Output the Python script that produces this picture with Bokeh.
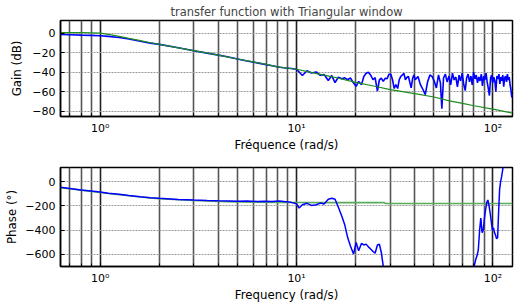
from bokeh.plotting import figure
from bokeh.models import Range1d, FixedTicker
from bokeh.layouts import column
from bokeh.embed import file_html
from bokeh.resources import INLINE

# ---------------- data ----------------
TITLE = "transfer function with Triangular window"
XLABEL_TOP = "Fréquence (rad/s)"
XLABEL_BOTTOM = "Frequency (rad/s)"
YLABEL_GAIN = "Gain (dB)"
YLABEL_PHASE = "Phase (°)"

X_MAJOR = [1, 10, 100]
X_MINOR = [0.7, 0.8, 0.9, 2, 3, 4, 5, 6, 7, 8, 9, 20, 30, 40, 50, 60, 70, 80, 90]
X_LABELS = {1: "10\u2070", 10: "10\u00b9", 100: "10\u00b2"}
GAIN_TICKS = [-80, -60, -40, -20, 0]
PHASE_TICKS = [-600, -400, -200, 0]

# theoretical (green) curves
theo_freq = [0.628, 0.7, 0.8, 0.9, 1.0, 1.1, 1.25, 1.4, 1.6, 1.8, 2.0, 2.5, 3.0, 4.0,
             5.0, 6.0, 7.0, 8.0, 10.0, 12.0, 15.0, 20.0, 25.0, 30.0, 40.0, 50.0,
             60.0, 70.0, 80.0, 100.0, 125.7]
theo_gain = [0.5, 0.6, 0.6, 0.4, 0.0, -1.2, -3.3, -5.3, -7.6, -9.8, -11.5, -15.0,
             -18.0, -22.5, -26.5, -29.5, -32.0, -34.5, -37.0, -40.5, -44.5, -50.5,
             -54.5, -58.0, -62.0, -65.5, -69.5, -72.0, -74.5, -78.0, -82.0]
theo_phase_freq = [0.628, 0.7, 0.8, 0.9, 1.0, 1.1, 1.25, 1.4, 1.6, 1.8, 2.0, 2.5, 3.0,
                   4.0, 5.0, 6.0, 8.0, 10.0, 15.0, 20.0, 28.0, 28.3, 40.0, 60.0, 80.0,
                   100.0, 125.7]
theo_phase = [-49, -58, -70, -80, -88, -97, -107, -116, -126, -134, -140, -149, -155,
              -162, -166, -168, -170, -171, -172, -172, -172, -179, -179, -180, -180,
              -180, -180]

# estimated (blue) gain
est_gain_freq = [0.628, 0.7, 0.8, 0.9, 1.0, 1.1, 1.25, 1.4, 1.6, 1.8, 2.0, 2.5, 3.0,
                 3.5, 4.0, 4.5, 5.0, 5.6, 6.3, 6.9, 7.5, 8.2, 8.8, 9.4,
                 10.0, 10.7, 11.3, 11.9, 12.6, 13.2, 13.8, 14.5, 15.1, 15.7, 16.3,
                 17.0, 17.6, 18.2, 18.8, 19.5, 20.1, 20.7, 21.4, 22.0, 22.6, 23.2,
                 23.9, 24.5, 25.1, 25.8, 26.4, 27.0, 27.6, 28.3, 28.9, 29.5, 30.2,
                 30.8, 31.4, 32.0, 32.7, 33.3, 33.9, 34.6, 35.2, 35.8, 36.4, 37.1,
                 37.7, 38.3, 39.0, 39.6, 40.2, 41.5, 42.7, 44.0, 45.2, 46.5, 47.8,
                 49.0, 50.3, 51.5, 52.8, 54.0, 54.9, 56.0, 57.2, 58.4, 59.7, 60.9,
                 62.2, 63.4, 64.7, 65.9, 67.2, 68.4, 69.7, 70.9, 72.2, 73.4, 74.7,
                 75.9, 77.2, 78.4, 79.7, 80.9, 82.2, 83.4, 84.7, 85.9, 87.2, 88.4,
                 89.7, 90.9, 92.2, 93.4, 94.7, 95.9, 97.2, 98.4, 99.7, 100.9, 102.2,
                 103.4, 104.7, 105.9, 107.2, 108.4, 109.7, 110.9, 112.2, 113.4, 114.7,
                 115.9, 117.2, 118.4, 119.7, 120.9, 122.2, 123.4, 124.7, 125.7]
est_gain = [-1.3, -1.6, -2.0, -2.3, -2.7, -3.3, -4.5, -6.0, -8.3, -10.2, -11.5, -15.0,
            -18.0, -20.5, -22.5, -24.5, -26.5, -28.5, -30.5, -32.0, -33.5, -35.0,
            -35.8, -36.2,
            -37.0, -43.5, -38.5, -40.8, -39.8, -43.2, -42.5, -48.5, -43.5, -50.8,
            -45.2, -46.8, -45.8, -47.8, -45.8, -51.2, -54.5, -49.5, -52.8, -44.5,
            -41.2, -40.2, -43.5, -47.8, -45.5, -59.5, -47.8, -46.2, -49.5, -46.2,
            -46.8, -42.2, -42.2, -47.8, -56.8, -52.8, -56.8, -47.8, -44.5, -42.8,
            -41.2, -47.8, -45.5, -44.5, -50.2, -56.2, -46.2, -42.8, -47.8, -44.5,
            -52.8, -57.8, -63.0, -49.5, -42.8, -44.5, -49.5, -56.2, -42.8, -51.0,
            -77.5, -46.0, -42.0, -50.0, -44.0, -53.0, -41.0, -48.0, -45.0, -55.0,
            -43.0, -49.0, -41.0, -52.0, -59.0, -46.0, -42.0, -50.0, -44.0, -53.0,
            -40.0, -47.0, -43.0, -51.0, -45.0, -49.0, -42.0, -54.0, -44.0, -48.0,
            -41.0, -50.0, -57.0, -64.0, -46.0, -43.0, -51.0, -45.0, -49.0, -60.0,
            -44.0, -47.0, -42.0, -52.0, -45.0, -49.0, -43.0, -55.0, -46.0, -44.0,
            -50.0, -42.0, -48.0, -45.0, -53.0, -58.0, -66.0, -62.0]

# estimated (blue) phase
est_phase_freq = [0.628, 0.7, 0.8, 0.9, 1.0, 1.1, 1.25, 1.4, 1.6, 1.8, 2.0, 2.5, 3.0,
                  3.5, 4.0, 4.5, 5.0, 5.6, 6.3, 6.9, 7.5, 8.2, 8.8, 9.4,
                  10.0, 10.3, 10.7, 11.3, 11.9, 12.6, 13.2, 13.8, 14.5, 15.1, 15.7,
                  16.3, 17.0, 17.6, 18.2, 18.8, 19.5, 20.1, 20.7, 21.4, 22.0, 22.6,
                  23.2, 23.9, 24.5, 25.1, 25.8, 26.4, 27.0, 27.6, 28.3, 28.9, 30.2,
                  35.2, 40.2, 50.3, 60.3, 70.4, 75.4, 79.2, 80.4, 81.7, 83.0, 84.2,
                  85.5, 86.7, 88.0, 89.2, 90.5, 91.7, 93.0, 94.2, 95.5, 96.8, 98.0,
                  99.3, 100.5, 101.8, 103.0, 104.3, 105.6, 106.8, 108.1, 109.3, 110.6,
                  111.8, 113.1, 115.6, 120.6, 125.7]
est_phase = [-46, -56, -68, -77, -85, -94, -104, -113, -123, -131, -137, -146, -151,
             -155, -157, -158, -160, -158, -163, -160, -162, -159, -164, -170,
             -182, -217, -190, -178, -195, -190, -176, -184, -144, -136, -144,
             -209, -285, -358, -461, -530, -597, -502, -570, -510, -522, -515,
             -538, -557, -576, -590, -522, -516, -584, -693, -800, -860, -900,
             -950, -1000, -980, -950, -900, -850, -760, -690, -640, -610, -560,
             -400, -300, -420, -400, -300, -230, -170, -150, -200, -260, -330,
             -400, -380, -420, -440, -470, -460, -250, -60, 0, 40,
             90, 150, 250, 350, 420]

# ---------------- styling ----------------
FONT = "DejaVu Sans"
BLUE = "#0000ff"
GREEN_TOP = "#1e8c1e"
GREEN_BOTTOM = "#5aab5a"


def make_fig(height, y_range, yticks, ylabel, xlabel, border_top, ylab_standoff):
    p = figure(width=515, height=height, x_axis_type="log",
               x_range=Range1d(0.628, 125.7), y_range=y_range,
               output_backend="svg", toolbar_location=None,
               min_border_left=60, min_border_right=3,
               min_border_top=border_top, min_border_bottom=36)
    p.background_fill_color = "white"
    p.border_fill_color = "white"
    p.outline_line_color = "black"
    p.outline_line_width = 1.5

    xt = FixedTicker(ticks=X_MAJOR, minor_ticks=X_MINOR)
    p.xaxis.ticker = xt
    p.xgrid.ticker = xt
    p.xaxis.major_label_overrides = X_LABELS
    p.yaxis.ticker = FixedTicker(ticks=yticks)

    for ax in (p.xaxis, p.yaxis):
        ax.axis_line_color = "black"
        ax.axis_line_width = 1.5
        ax.major_tick_in = 4
        ax.major_tick_out = 0
        ax.minor_tick_in = 3
        ax.minor_tick_out = 0
        ax.major_tick_line_color = "black"
        ax.minor_tick_line_color = "black"
        ax.major_label_text_font = FONT
        ax.major_label_text_font_size = "11px"
        ax.major_label_text_color = "black"
        ax.axis_label_text_font = FONT
        ax.axis_label_text_font_size = "11.8px"
        ax.axis_label_text_font_style = "normal"
        ax.axis_label_text_color = "black"

    p.xaxis.major_label_standoff = 5
    p.xaxis.axis_label_standoff = 0
    p.xaxis.axis_label = xlabel
    p.yaxis.major_label_standoff = 5
    p.yaxis.axis_label_standoff = ylab_standoff
    p.yaxis.axis_label = ylabel

    p.xgrid.grid_line_color = "#202020"
    p.xgrid.grid_line_width = 1.6
    p.xgrid.minor_grid_line_color = "#555555"
    p.xgrid.minor_grid_line_width = 1.6
    p.ygrid.grid_line_color = "#9a9a9a"
    p.ygrid.grid_line_width = 1
    p.ygrid.grid_line_dash = "2 1"
    return p


p1 = make_fig(154, Range1d(-85.5, 13), GAIN_TICKS, YLABEL_GAIN, XLABEL_TOP, 19, 5)
p1.title.text = TITLE
p1.title.align = "center"
p1.title.text_font = FONT
p1.title.text_font_size = "11.5px"
p1.title.text_font_style = "normal"
p1.title.standoff = 4
p1.line(est_gain_freq, est_gain, line_color=BLUE, line_width=1.6)
p1.line(theo_freq, theo_gain, line_color=GREEN_TOP, line_width=1.2)

p2 = make_fig(150, Range1d(-700, 118), PHASE_TICKS, YLABEL_PHASE, XLABEL_BOTTOM, 13, 3)
p2.line(theo_phase_freq, theo_phase, line_color=GREEN_BOTTOM, line_width=1.6)
p2.line(est_phase_freq, est_phase, line_color=BLUE, line_width=1.5)

layout = column(p1, p2, spacing=0)
open("out.html", "w").write(file_html(layout, INLINE))
